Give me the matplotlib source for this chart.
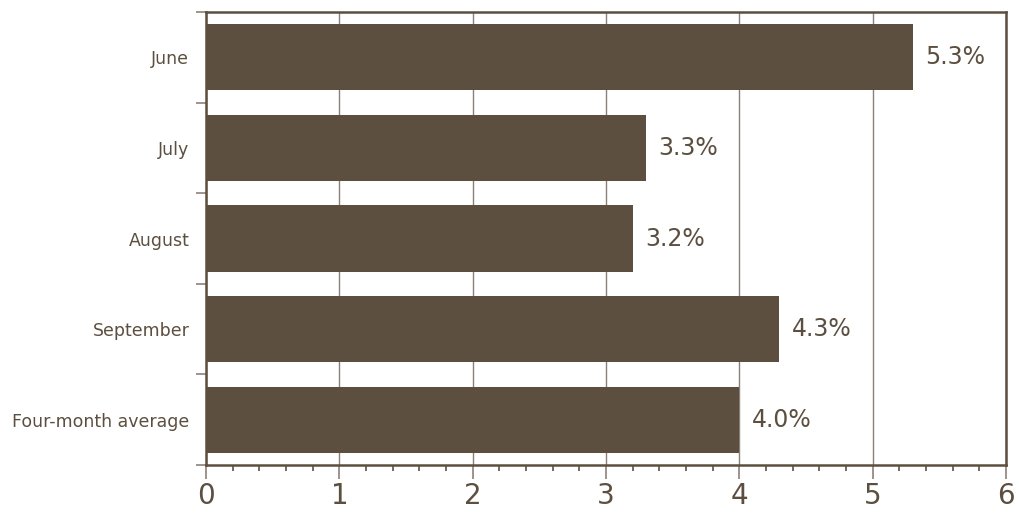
import matplotlib
matplotlib.use("Agg")
import matplotlib.pyplot as plt
from matplotlib.ticker import MultipleLocator
import numpy as np

# Monthly values (percent)
months = ["June", "July", "August", "September", "Four-month average"]
values = [5.3, 3.3, 3.2, 4.3, 4.0]
value_labels = ["5.3%", "3.3%", "3.2%", "4.3%", "4.0%"]

brown = "#5c4f40"
grid_col = "#8c8178"

plt.rcParams['font.family'] = ['DejaVu Sans']

fig = plt.figure(figsize=(10.19, 5.14), dpi=100)
ax = fig.add_axes([206 / 1019, 49 / 514, 800 / 1019, 453 / 514])

ypos = np.arange(len(months))
ax.barh(ypos, values, height=0.73, color=brown, zorder=3)

for y, v, lab in zip(ypos, values, value_labels):
    ax.annotate(lab, (v, y), xytext=(9, 0), textcoords="offset points",
                va="center", ha="left", fontsize=17, color=brown)

ax.set_xlim(0, 6)
ax.set_ylim(len(months) - 0.5, -0.5)

# x axis: majors with grid, minors every 0.2
ax.xaxis.set_major_locator(MultipleLocator(1))
ax.xaxis.set_minor_locator(MultipleLocator(0.2))
ax.grid(axis="x", which="major", color=grid_col, lw=1, zorder=1)
ax.tick_params(axis="x", which="major", length=10, width=1.2, color=grid_col,
               labelsize=20, labelcolor=brown, pad=2)
ax.tick_params(axis="x", which="minor", length=4, width=1.2, color=brown)

# y axis: labels at bar centres, ticks at the boundaries
ax.set_yticks(ypos)
ax.set_yticklabels(months)
ax.set_yticks(np.arange(-0.5, len(months)), minor=True)
ax.tick_params(axis="y", which="major", length=0, labelsize=12.5,
               labelcolor=brown, pad=12)
ax.tick_params(axis="y", which="minor", length=7, width=1.2, color=grid_col)

for side in ["left", "right", "top", "bottom"]:
    ax.spines[side].set_color(brown)
    ax.spines[side].set_linewidth(1.8)
    ax.spines[side].set_zorder(4)

fig.savefig("out.png", dpi=100)
